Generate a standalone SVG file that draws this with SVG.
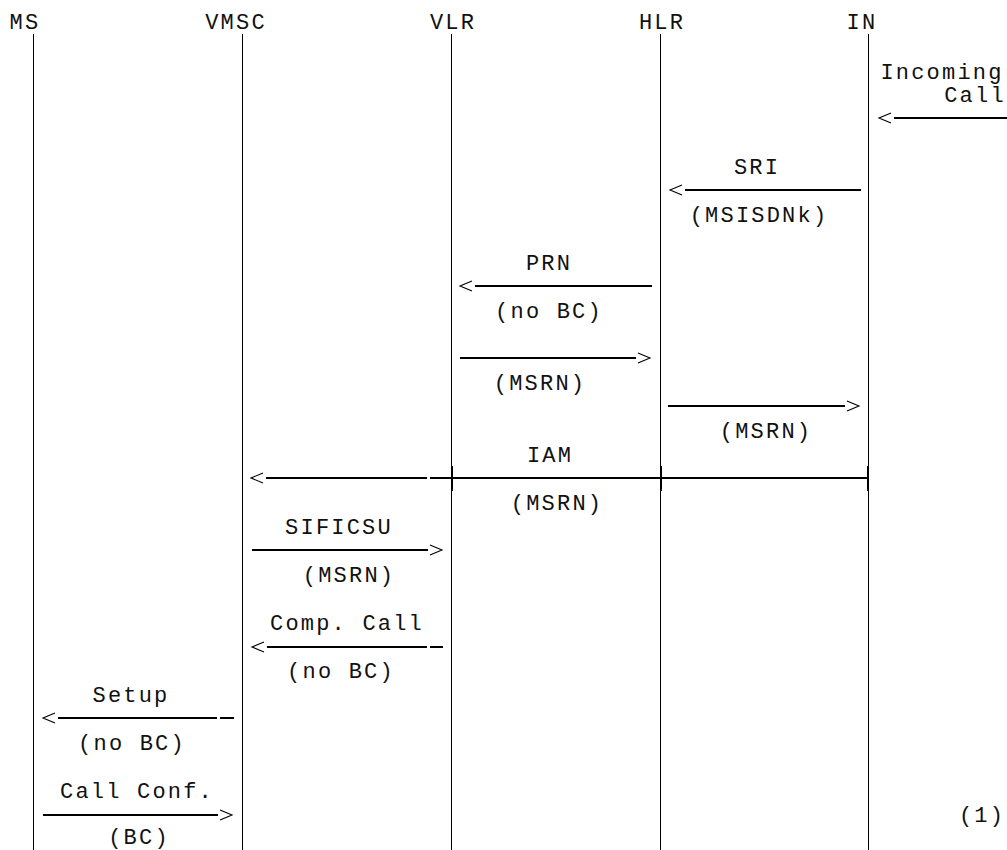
<svg xmlns="http://www.w3.org/2000/svg" width="1007" height="850" viewBox="0 0 1007 850">
<style>
text{font-family:"Liberation Mono","Courier New",monospace;font-size:22px;letter-spacing:2.2px;fill:#111;text-anchor:middle}
.life{stroke:#000;stroke-width:1;fill:none}
.msg{stroke:#000;stroke-width:2;fill:none}
.tick{stroke:#000;stroke-width:2;fill:none}
.hd{fill:none;stroke:#000;stroke-width:1.1}
</style>
<defs>
<marker id="al" markerUnits="userSpaceOnUse" markerWidth="20" markerHeight="14" viewBox="-18 -7 20 14" refX="0" refY="0" orient="0" overflow="visible">
<path class="hd" d="M-3,-5 L-15,0 L-3,5"/>
</marker>
<marker id="ar" markerUnits="userSpaceOnUse" markerWidth="20" markerHeight="14" viewBox="-2 -7 20 14" refX="0" refY="0" orient="0" overflow="visible">
<path class="hd" d="M2,-5 L14,0 L2,5"/>
</marker>
</defs>
<rect x="0" y="0" width="1007" height="850" fill="#fff"/>
<g id="MS"><text x="25" y="29">MS</text><line class="life" x1="33.5" y1="34" x2="33.5" y2="850"/></g>
<g id="VMSC"><text x="236" y="29">VMSC</text><line class="life" x1="242.5" y1="34" x2="242.5" y2="850"/></g>
<g id="VLR"><text x="453" y="29">VLR</text><line class="life" x1="451.5" y1="34" x2="451.5" y2="850"/></g>
<g id="HLR"><text x="662" y="29">HLR</text><line class="life" x1="660.5" y1="34" x2="660.5" y2="850"/></g>
<g id="IN"><text x="862" y="29">IN</text><line class="life" x1="868.5" y1="34" x2="868.5" y2="850"/></g>
<g id="connectors">
<line class="msg" x1="894" y1="118" x2="1007" y2="118" marker-start="url(#al)"/>
<line class="msg" x1="685" y1="190" x2="861" y2="190" marker-start="url(#al)"/>
<line class="msg" x1="475" y1="286" x2="652" y2="286" marker-start="url(#al)"/>
<line class="msg" x1="460" y1="358" x2="636" y2="358" marker-end="url(#ar)"/>
<line class="msg" x1="668" y1="406" x2="845" y2="406" marker-end="url(#ar)"/>
<line class="msg" x1="266" y1="478" x2="427" y2="478" marker-start="url(#al)"/>
<line class="msg" x1="430" y1="478" x2="868" y2="478"/>
<line class="tick" x1="452" y1="466" x2="452" y2="491"/>
<line class="tick" x1="661" y1="466" x2="661" y2="491"/>
<line class="tick" x1="868" y1="466" x2="868" y2="491"/>
<line class="msg" x1="252" y1="550" x2="428" y2="550" marker-end="url(#ar)"/>
<line class="msg" x1="267" y1="647" x2="427" y2="647" marker-start="url(#al)"/>
<line class="msg" x1="430" y1="647" x2="443" y2="647"/>
<line class="msg" x1="58" y1="718" x2="217" y2="718" marker-start="url(#al)"/>
<line class="msg" x1="220" y1="718" x2="234" y2="718"/>
<line class="msg" x1="43" y1="815" x2="218" y2="815" marker-end="url(#ar)"/>
</g>
<g id="labels">
<text x="942" y="79">Incoming</text>
<text x="975" y="102">Call</text>
<text x="757" y="174">SRI</text>
<text x="759" y="222">(MSISDNk)</text>
<text x="549" y="270">PRN</text>
<text x="549" y="318">(no BC)</text>
<text x="540" y="390">(MSRN)</text>
<text x="766" y="438">(MSRN)</text>
<text x="550" y="462">IAM</text>
<text x="557" y="510">(MSRN)</text>
<text x="339" y="534">SIFICSU</text>
<text x="349" y="582">(MSRN)</text>
<text x="347" y="630">Comp. Call</text>
<text x="341" y="678">(no BC)</text>
<text x="131" y="702">Setup</text>
<text x="132" y="750">(no BC)</text>
<text x="137" y="798">Call Conf.</text>
<text x="139" y="844">(BC)</text>
<text x="982" y="822">(1)</text>
</g>
</svg>
